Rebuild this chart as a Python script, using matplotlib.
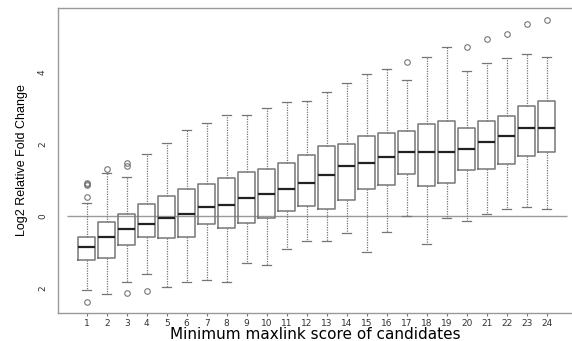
import matplotlib
matplotlib.use("Agg")
import matplotlib.pyplot as plt


# =====================================================
# DATA
# =====================================================

scores = list(range(1, 25))

med = [-0.87, -0.59, -0.37, -0.23, -0.04, 0.07, 0.26, 0.32, 0.51, 0.61, 0.74, 0.91,
       1.15, 1.40, 1.48, 1.63, 1.77, 1.78, 1.78, 1.86, 2.06, 2.22, 2.44, 2.46]
q1 = [-1.22, -1.15, -0.81, -0.59, -0.62, -0.59, -0.22, -0.32, -0.18, -0.04, 0.15, 0.28,
      0.21, 0.46, 0.75, 0.86, 1.17, 0.83, 0.91, 1.28, 1.32, 1.46, 1.68, 1.79]
q3 = [-0.57, -0.16, 0.05, 0.35, 0.56, 0.75, 0.89, 1.06, 1.23, 1.32, 1.48, 1.70,
      1.94, 2.00, 2.22, 2.30, 2.37, 2.55, 2.64, 2.44, 2.65, 2.79, 3.06, 3.19]
whis_lo = [-2.04, -2.15, -1.82, -1.62, -1.98, -1.82, -1.78, -1.84, -1.29, -1.36, -0.91, -0.69,
           -0.69, -0.48, -0.99, -0.45, 0.00, -0.76, -0.04, -0.14, 0.07, 0.21, 0.26, 0.19]
whis_hi = [0.37, 1.19, 1.09, 1.72, 2.02, 2.39, 2.59, 2.81, 2.82, 2.99, 3.18, 3.19,
           3.44, 3.71, 3.96, 4.10, 3.77, 4.43, 4.71, 4.03, 4.24, 4.38, 4.49, 4.41]
outliers = [
    [0.54, 0.86, 0.90, 0.93, -2.38],
    [1.32],
    [1.39, 1.48, -2.13],
    [-2.08],
    [], [], [], [], [], [], [], [], [], [], [], [],
    [4.27],
    [], [],
    [4.71],
    [4.92],
    [5.06],
    [5.33],
    [5.45],
]

y_ticks = [-2, 0, 2, 4]
y_tick_labels = ["2", "0", "2", "4"]


# =====================================================
# PLOT
# =====================================================

GRAY = "#767676"

stats = []
for i in range(len(scores)):
    stats.append({
        "med": med[i],
        "q1": q1[i],
        "q3": q3[i],
        "whislo": whis_lo[i],
        "whishi": whis_hi[i],
        "fliers": outliers[i],
    })

fig = plt.figure(figsize=(5.72, 3.41), dpi=100)
ax = fig.add_axes([0.1014, 0.0821, 0.8986, 0.8944])

ax.hlines(0, 0, 25, color="#9a9a9a", lw=1.0, zorder=1)

ax.bxp(
    stats,
    positions=scores,
    widths=0.85,
    showfliers=True,
    boxprops=dict(color=GRAY, lw=1.1),
    medianprops=dict(color="#222222", lw=1.6),
    whiskerprops=dict(color=GRAY, lw=0.9, linestyle=(0, (1, 1))),
    capprops=dict(color=GRAY, lw=0.9),
    capwidths=0.42,
    flierprops=dict(marker="o", markersize=4, markerfacecolor="none",
                    markeredgecolor=GRAY, markeredgewidth=0.8),
)

ax.set_xlim(-0.435, 25.27)
ax.set_ylim(-2.69, 5.78)

ax.set_xticks(scores)
ax.set_xticklabels([str(s) for s in scores], fontsize=6.5, color="#333333")
ax.set_yticks(y_ticks)
ax.set_yticklabels(y_tick_labels, fontsize=6.5, color="#333333",
                   rotation=90, va="center")
ax.tick_params(axis="x", length=2.5, color=GRAY, pad=1.5)
ax.tick_params(axis="y", length=0, pad=8)

for side in ["left", "bottom", "top"]:
    ax.spines[side].set_color("#999999")
    ax.spines[side].set_linewidth(1.0)
ax.spines["right"].set_visible(False)

ax.set_xlabel("Minimum maxlink score of candidates", fontsize=11, labelpad=-0.5)
ax.set_ylabel("Log2 Relative Fold Change", fontsize=9, labelpad=7,
              family=["Liberation Sans Narrow", "Liberation Sans", "DejaVu Sans"])

fig.savefig("out.png", dpi=100)
